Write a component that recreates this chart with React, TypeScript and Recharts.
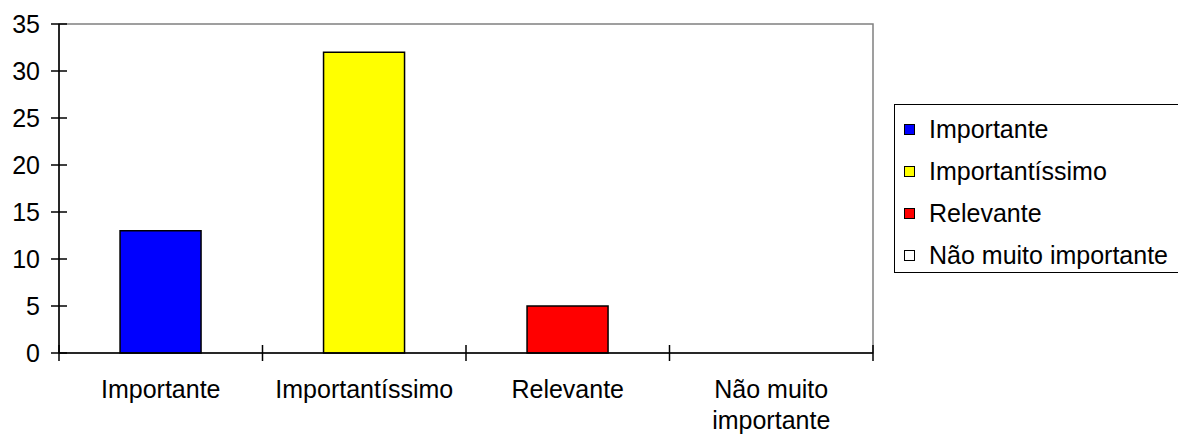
import React from 'react';
import { BarChart, Bar, Cell, XAxis, YAxis, Legend, ReferenceArea } from 'recharts';

// Survey answers: how important is it?
const categories = ['Importante', 'Importantíssimo', 'Relevante', 'Não muito importante'];
const counts = [13, 32, 5, 0];
const barColors = ['#0000FF', '#FFFF00', '#FF0000', '#FFFFFF'];
const yTicks = [0, 5, 10, 15, 20, 25, 30, 35];

const data = categories.map((name, i) => ({ name, value: counts[i] }));

const FONT = '"Liberation Sans", Arial, Helvetica, sans-serif';
const FONT_SIZE = 25;
const CHART_W = 1178;
const CHART_H = 437;
const MARGIN = { top: 24, right: 305, bottom: 0, left: 0 };
const Y_AXIS_W = 59;
const X_AXIS_H = 84;
const BAND = (CHART_W - MARGIN.right - Y_AXIS_W) / categories.length;
const LABEL_MAX_W = 195;
const LINE_H = 31;

// Greedy word wrap measured with a canvas context
let ctx: CanvasRenderingContext2D | null = null;
const measure = (s: string) => {
  if (!ctx) {
    ctx = document.createElement('canvas').getContext('2d');
    if (ctx) ctx.font = `${FONT_SIZE}px ${FONT}`;
  }
  return ctx ? ctx.measureText(s).width : s.length * FONT_SIZE * 0.5;
};
const wrap = (text: string, maxW: number) => {
  const words = text.split(' ');
  const lines: string[] = [];
  let cur = '';
  words.forEach((w) => {
    const next = cur ? `${cur} ${w}` : w;
    if (cur && measure(next) > maxW) {
      lines.push(cur);
      cur = w;
    } else {
      cur = next;
    }
  });
  if (cur) lines.push(cur);
  return lines;
};

const YTick = (props: any) => {
  const { x, y, payload } = props;
  return (
    <g>
      <line x1={x + 10} x2={x + 26} y1={y} y2={y} stroke="#000" strokeWidth={1.5} />
      <text x={x - 1} y={y} textAnchor="end" dominantBaseline="central" fontFamily={FONT} fontSize={FONT_SIZE} fill="#000">
        {payload.value}
      </text>
    </g>
  );
};

const XTick = (props: any) => {
  const { x, y, payload, index } = props;
  const half = payload && typeof payload.offset === 'number' && payload.offset > 0 ? payload.offset : BAND / 2;
  const last = index === categories.length - 1;
  const lines = wrap(String(payload.value), LABEL_MAX_W);
  return (
    <g>
      <line x1={x - half} x2={x - half} y1={y - 8} y2={y + 8} stroke="#000" strokeWidth={1.5} />
      {last && <line x1={x + half} x2={x + half} y1={y - 8} y2={y + 8} stroke="#000" strokeWidth={1.5} />}
      <text x={x} y={y + 45} textAnchor="middle" fontFamily={FONT} fontSize={FONT_SIZE} fill="#000">
        {lines.map((ln, i) => (
          <tspan key={i} x={x} dy={i === 0 ? 0 : LINE_H}>
            {ln}
          </tspan>
        ))}
      </text>
    </g>
  );
};

const LegendBox = () => (
  <div
    style={{
      boxSizing: 'border-box',
      width: 300,
      height: 169,
      border: '1.5px solid #000',
      background: '#fff',
      paddingTop: 3,
      fontFamily: FONT,
      fontSize: FONT_SIZE,
      color: '#000',
    }}
  >
    {categories.map((name, i) => (
      <div key={name} style={{ height: 42, display: 'flex', alignItems: 'center', paddingLeft: 9 }}>
        <span
          style={{
            display: 'inline-block',
            boxSizing: 'border-box',
            width: 11,
            height: 11,
            background: barColors[i],
            border: '1px solid #000',
            marginRight: 14,
          }}
        />
        <span style={{ whiteSpace: 'nowrap', lineHeight: 1 }}>{name}</span>
      </div>
    ))}
  </div>
);

export default function App() {
  return (
    <div style={{ position: 'absolute', left: 0, top: 0, width: CHART_W, height: CHART_H, background: '#fff' }}>
      <BarChart width={CHART_W} height={CHART_H} data={data} margin={MARGIN} barCategoryGap="30%">
        <ReferenceArea
          x1={categories[0]}
          x2={categories[categories.length - 1]}
          y1={0}
          y2={35}
          fill="none"
          stroke="#808080"
          strokeWidth={1.5}
          ifOverflow="visible"
        />
        <YAxis
          type="number"
          domain={[0, 35]}
          ticks={yTicks}
          interval={0}
          width={Y_AXIS_W}
          tickSize={0}
          tickMargin={18}
          tickLine={false}
          axisLine={{ stroke: '#000', strokeWidth: 1.5 }}
          tick={<YTick />}
        />
        <XAxis
          dataKey="name"
          height={X_AXIS_H}
          interval={0}
          tickSize={0}
          tickMargin={0}
          tickLine={false}
          axisLine={{ stroke: '#000', strokeWidth: 1.5 }}
          tick={<XTick />}
        />
        <Bar dataKey="value" stroke="#000" strokeWidth={1.5} isAnimationActive={false}>
          {data.map((d, i) => (
            <Cell key={d.name} fill={barColors[i]} />
          ))}
        </Bar>
        <Legend
          layout="horizontal"
          verticalAlign="middle"
          align="center"
          content={<LegendBox />}
          wrapperStyle={{ position: 'absolute', left: 894, top: 104, width: 300, height: 169 }}
        />
      </BarChart>
    </div>
  );
}
